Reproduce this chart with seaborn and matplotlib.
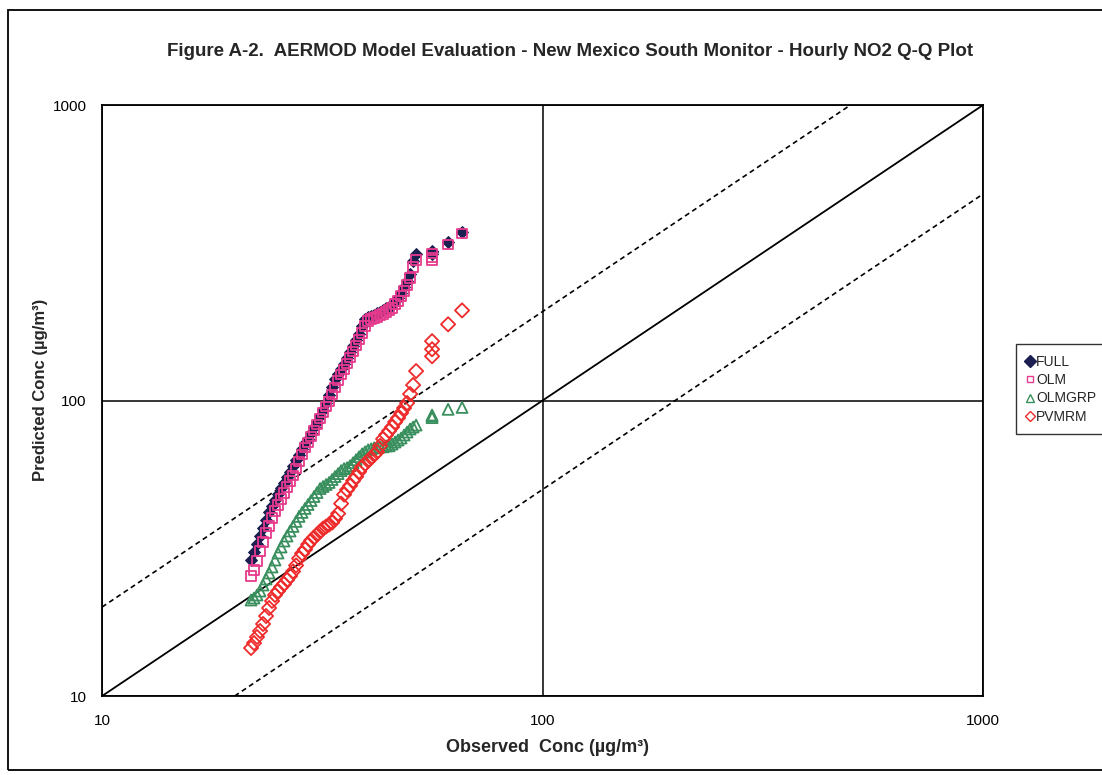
import matplotlib
matplotlib.use("Agg")
import matplotlib.pyplot as plt
from matplotlib.patches import Rectangle
from matplotlib.ticker import FixedLocator, FixedFormatter, NullFormatter, LogLocator
import seaborn as sns
import pandas as pd

# ---------------- data ----------------
observed = [21.79, 22.13, 22.48, 22.84, 23.20, 23.57, 23.94, 24.32, 24.70, 25.09,
            25.49, 25.89, 26.30, 26.72, 27.14, 27.57, 28.01, 28.45, 28.90, 29.36,
            29.82, 30.29, 30.77, 31.26, 31.75, 32.26, 32.77, 33.29, 33.81, 34.35,
            34.89, 35.44, 36.00, 36.57, 37.15, 37.74, 38.33, 38.94, 39.55, 40.18,
            40.81, 41.46, 42.11, 42.78, 43.45, 44.14, 44.84, 45.55, 46.27, 46.99,
            47.74, 48.49, 49.26, 50.04, 50.83, 51.63, 56.12, 56.12, 56.12, 61.03,
            65.65]

full = [28.86, 30.71, 32.69, 34.78, 37.02, 39.41, 41.94, 43.95, 46.06, 48.26,
        50.57, 52.57, 55.09, 57.28, 59.84, 62.70, 65.19, 68.31, 71.57, 74.36,
        77.92, 81.66, 84.90, 88.30, 93.22, 98.45, 104.8, 111.5, 118.7, 123.3,
        128.2, 133.3, 139.6, 146.3, 153.2, 160.6, 168.3, 178.9, 189.0, 192.0,
        193.5, 195.0, 197.9, 199.5, 202.6, 205.8, 207.4, 210.5, 217.1, 222.3,
        231.1, 242.2, 253.7, 268.0, 296.6, 312.9, 314.0, 318.0, 320.1, 343.1,
        370.6]

olm = [25.47, 26.69, 28.63, 30.95, 33.20, 35.61, 37.61, 40.03, 42.28, 44.30,
       46.42, 48.64, 50.96, 53.41, 55.79, 58.91, 62.21, 65.70, 69.39, 72.09,
       75.55, 79.16, 82.95, 86.92, 91.08, 95.43, 99.22, 104.8, 110.7, 116.8,
       122.4, 127.2, 133.2, 139.6, 146.3, 153.2, 160.6, 169.5, 178.9, 186.0,
       189.0, 190.5, 191.8, 194.9, 196.4, 199.5, 202.6, 205.6, 212.2, 217.1,
       225.7, 234.7, 246.0, 259.8, 283.0, 298.6, 299.0, 305.4, 315.0, 337.8,
       367.8]

olmgrp = [21.13, 21.46, 21.97, 22.66, 23.75, 24.89, 26.08, 27.33, 28.86, 30.47,
          31.93, 33.46, 34.78, 36.17, 37.49, 38.99, 40.54, 41.81, 43.14, 44.48,
          45.87, 47.33, 48.83, 50.37, 51.17, 51.97, 52.79, 54.04, 55.31, 56.57,
          57.91, 58.82, 59.24, 60.17, 61.59, 63.05, 64.54, 66.01, 67.05, 68.11,
          68.63, 69.17, 69.20, 69.66, 69.70, 70.21, 70.25, 71.25, 72.38, 73.50,
          74.66, 76.42, 78.23, 80.09, 81.34, 82.57, 87.5, 88.5, 89.3, 93.37,
          94.76]

pvmrm = [14.54, 15.11, 15.84, 16.60, 17.53, 18.65, 19.86, 20.97, 21.97, 22.66,
         23.38, 23.93, 24.70, 25.47, 26.40, 27.67, 29.23, 30.38, 31.35, 32.56,
         33.59, 34.39, 35.20, 36.03, 36.88, 37.46, 38.05, 38.65, 39.87, 41.43,
         44.78, 48.04, 49.90, 51.48, 53.53, 55.22, 57.42, 59.65, 61.06, 62.51,
         64.00, 65.50, 66.99, 70.21, 74.13, 76.49, 78.91, 81.34, 84.57, 87.26,
         90.71, 94.32, 98.06, 105.2, 112.8, 125.8, 141.2, 149.1, 158.8, 181.1,
         201.8]

series_names = ["FULL", "OLM", "OLMGRP", "PVMRM"]
tick_values = [10, 100, 1000]
tick_labels = ["10", "100", "1000"]

title_text = "Figure A-2.  AERMOD Model Evaluation - New Mexico South Monitor - Hourly NO2 Q-Q Plot"
xlabel_text = "Observed  Conc (µg/m³)"
ylabel_text = "Predicted Conc (µg/m³)"

df = pd.concat([
    pd.DataFrame({"Observed": observed, "Predicted": vals, "Series": name})
    for name, vals in zip(series_names, [full, olm, olmgrp, pvmrm])
], ignore_index=True)

# ---------------- styling ----------------
sns.set_style("white")
plt.rcParams["font.family"] = ["Liberation Sans", "DejaVu Sans"]

styles = {
    "FULL":   dict(marker="D", s=36, color="#1c2050", facecolor="#1c2050", edgecolor="#1c2050", linewidth=0.8, ms=6),
    "OLM":    dict(marker="s", s=46, color="#e63b8e", facecolor="none", edgecolor="#e63b8e", linewidth=1.3, ms=5),
    "OLMGRP": dict(marker="^", s=62, color="#3a8f5e", facecolor="none", edgecolor="#3a8f5e", linewidth=1.3, ms=6),
    "PVMRM":  dict(marker="D", s=52, color="#ee2a2a", facecolor="none", edgecolor="#ee2a2a", linewidth=1.3, ms=5.5),
}

fig = plt.figure(figsize=(11.02, 7.75), dpi=100)
ax = fig.add_axes([0.0926, 0.1019, 0.7995, 0.7626])

ax.set_xscale("log")
ax.set_yscale("log")
ax.set_xlim(10, 1000)
ax.set_ylim(10, 1000)

# reference lines: 1:1 solid, factor-of-two dashed
ax.plot([10, 1000], [10, 1000], color="black", lw=1.3, zorder=2)
ax.plot([10, 500], [20, 1000], color="black", lw=1.2, ls=(0, (3, 2.2)), zorder=2)
ax.plot([20, 1000], [10, 500], color="black", lw=1.2, ls=(0, (3, 2.2)), zorder=2)

handles = []
for name in series_names:
    sub = df[df["Series"] == name]
    st = styles[name]
    sns.scatterplot(data=sub, x="Observed", y="Predicted", ax=ax,
                    marker=st["marker"], s=st["s"], color=st["color"],
                    facecolor=st["facecolor"], edgecolor=st["edgecolor"],
                    linewidth=st["linewidth"], zorder=3, legend=False)
    handles.append(plt.Line2D([], [], linestyle="none", marker=st["marker"],
                              markersize=st["ms"],
                              markerfacecolor=st["facecolor"],
                              markeredgecolor=st["edgecolor"], markeredgewidth=1.0,
                              label=name))

# ticks & grid
ax.xaxis.set_major_locator(FixedLocator(tick_values))
ax.yaxis.set_major_locator(FixedLocator(tick_values))
ax.xaxis.set_major_formatter(FixedFormatter(tick_labels))
ax.yaxis.set_major_formatter(FixedFormatter(tick_labels))
ax.xaxis.set_minor_locator(LogLocator(base=10, subs=range(2, 10)))
ax.yaxis.set_minor_locator(LogLocator(base=10, subs=range(2, 10)))
ax.xaxis.set_minor_formatter(NullFormatter())
ax.yaxis.set_minor_formatter(NullFormatter())
ax.tick_params(which="major", direction="out", length=4, width=1.0, colors="black",
               labelsize=11)
ax.tick_params(axis="y", which="major", pad=7)
ax.tick_params(axis="x", which="major", pad=9)
ax.tick_params(which="minor", direction="in", length=3, width=0.8, colors="black")
ax.grid(True, which="major", color="black", lw=1.1)
ax.set_axisbelow(True)
for sp in ax.spines.values():
    sp.set_color("black")
    sp.set_linewidth(1.3)

ax.set_xlabel(xlabel_text, fontsize=13, fontweight="bold")
ax.set_ylabel(ylabel_text, fontsize=12, fontweight="bold")
ax.xaxis.set_label_coords(0.506, -0.073)
ax.yaxis.set_label_coords(-0.061, 0.518)

fig.text(0.517, 0.933, title_text, ha="center", va="center", fontsize=13.5,
         fontweight="bold")

leg = fig.legend(handles=handles, loc="upper left", bbox_to_anchor=(0.922, 0.556),
                 frameon=True, fancybox=False, edgecolor="black", fontsize=10,
                 handlelength=0.45, handletextpad=0.25, labelspacing=0.32,
                 borderpad=0.75, borderaxespad=0)
leg.get_frame().set_linewidth(1.0)

# chart-area border
fig.patches.append(Rectangle((8 / 1102, 5 / 775), 1.0, 1 - 15 / 775, fill=False,
                             edgecolor="black", lw=1.3, transform=fig.transFigure,
                             figure=fig))

fig.savefig("out.png", dpi=100)
